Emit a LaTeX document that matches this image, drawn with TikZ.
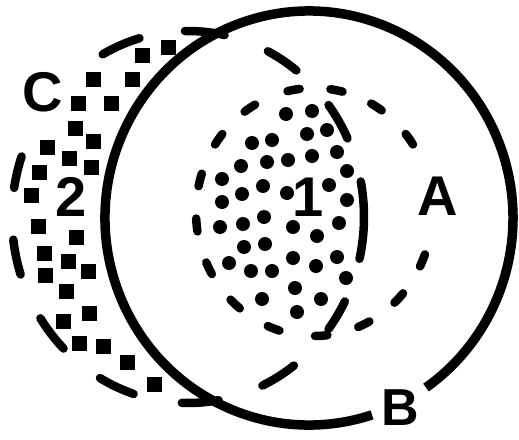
\documentclass[tikz,border=0pt]{standalone}
\usepackage{fontspec}
\setmainfont{Liberation Sans}
\usepackage{tikz}

\begin{document}
\begin{tikzpicture}[
        x=1pt, y=-1pt,
        ring/.style={line width=9.5pt},
        dashpart/.style={line width=8.5pt, line cap=round},
        dot/.style={circle, fill, inner sep=0pt, minimum size=14pt},
        sq/.style={rectangle, fill, inner sep=0pt, minimum size=15pt},
        setname/.style={font=\fontsize{56}{60}\selectfont\bfseries, inner sep=0pt}
    ]
    \useasboundingbox (0,0) rectangle (519,439);

    % Set B
    \draw [ring] (309,218) ++(72:204 and 207) arc [start angle=72, end angle=415, x radius=204, y radius=207];

    % Set C
    \foreach \a/\b in {241/254, 269/282, 297/308, 323/335, 349/373, 27/37,
                       53/65, 80/92, 108/120, 135/147, 162/173, 189/199}
        \draw [dashpart] (188,217) ++(\a:176 and 186) arc [start angle=\a, end angle=\b, x radius=176, y radius=186];

    % Set A
    \foreach \c [evaluate=\c as \s using \c-3, evaluate=\c as \e using \c+3] in
            {260, 281, 302, 324, 23, 44, 65, 86.5, 110, 132, 153, 174, 195, 216, 237}
        \draw [dashpart] (314,212) ++(\s:118 and 124) arc [start angle=\s, end angle=\e, x radius=118, y radius=124];

    % Region 1
    \foreach \p [count=\i] in {(286,114), (312,111), (252,143), (272,140), (307,134), (327,130),
            (241,166), (267,162), (288,160), (312,156), (337,152), (347,171), (222,179),
            (263,186), (287,193), (242,194), (329,185), (347,200), (222,202), (264,217),
            (220,227), (243,224), (293,227), (317,236), (339,223), (244,247), (265,244),
            (229,263), (251,271), (272,271), (293,258), (316,266), (337,257), (346,278),
            (295,288), (262,299), (321,299), (297,312)}
        \node [dot] (dot\i) at \p {};

    % Region 2
    \foreach \p [count=\i] in {(168,47), (142,55), (93,79), (132,79), (78,103), (111,103),
            (75,128), (93,141), (47,147), (69,158), (91,167), (39,172), (31,195), (38,226),
            (76,237), (44,253), (68,261), (88,271), (45,275), (66,291), (89,313), (63,321),
            (79,343), (103,346), (127,362), (154,384)}
        \node [sq] (sq\i) at \p {};

    % Labels
    \node [setname] (nameC) at (43,92) {C};
    \node [setname] (name2) at (71,197) {2};
    \node [setname] (name1) at (308,197) {1};
    \node [setname] (nameA) at (438,196) {A};
    \node [setname, font=\fontsize{52}{56}\selectfont\bfseries] (nameB) at (400,408) {B};

\end{tikzpicture}
\end{document}
